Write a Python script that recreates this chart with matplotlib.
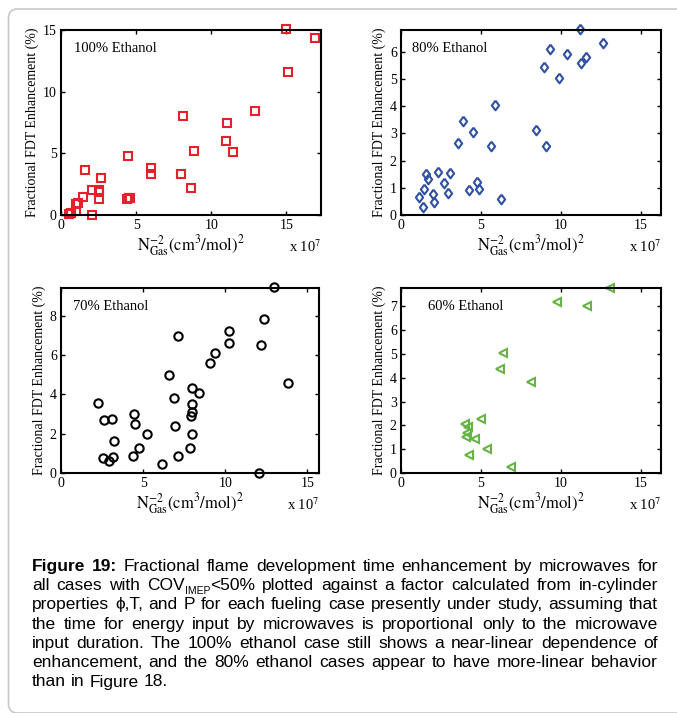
import numpy as np
import matplotlib
matplotlib.use("Agg")
import matplotlib.pyplot as plt
from matplotlib.path import Path
from matplotlib.patches import PathPatch

plt.rcParams['font.family'] = ['Liberation Serif', 'DejaVu Serif']
plt.rcParams['mathtext.fontset'] = 'stix'

# x values are in units of 1e7 (cm^3/mol)^2, y values in %
x100 = [0.55, 0.65, 1.0, 1.0, 1.1, 1.49, 1.6, 2.05, 2.09, 2.5, 2.56, 2.5, 2.65, 4.39, 4.52,
        4.57, 4.43, 6.01, 5.99, 7.97, 8.15, 8.66, 8.84, 10.98, 11.02, 11.45, 12.92, 14.97, 15.08, 16.9]
y100 = [0.1, 0.15, 0.35, 0.89, 0.95, 1.43, 3.68, 0.03, 2.0, 2.0, 1.84, 1.27, 3.03, 1.3, 1.35,
        1.4, 4.78, 3.84, 3.32, 3.35, 8.0, 2.19, 5.19, 6.0, 7.49, 5.08, 8.4, 15.05, 11.59, 14.38]

x80 = [1.13, 1.36, 1.44, 1.57, 1.71, 1.98, 2.09, 2.32, 2.67, 2.96, 3.07, 3.59, 3.9, 4.22, 4.47,
       4.78, 4.86, 5.64, 5.85, 6.22, 8.43, 8.96, 9.08, 9.29, 9.9, 10.38, 11.17, 11.27, 11.59, 12.63]
y80 = [0.67, 0.28, 0.95, 1.49, 1.32, 0.76, 0.47, 1.59, 1.16, 0.8, 1.55, 2.63, 3.45, 0.92, 3.04,
       1.21, 0.94, 2.53, 4.04, 0.59, 3.13, 5.43, 2.53, 6.11, 5.03, 5.91, 6.82, 5.57, 5.8, 6.34]

x70 = [2.23, 2.62, 3.08, 2.58, 2.92, 3.14, 3.25, 4.42, 4.5, 4.38, 4.77, 5.21, 6.13, 6.59, 6.9,
       6.96, 7.12, 7.14, 7.95, 7.97, 7.95, 7.91, 7.99, 7.87, 8.42, 9.07, 9.37, 10.22, 10.24,
       12.17, 12.05, 13.79, 12.97, 12.36]
y70 = [3.57, 2.69, 2.72, 0.77, 0.63, 0.8, 1.65, 2.99, 2.47, 0.85, 1.29, 2.0, 0.48, 5.0, 3.79,
       2.38, 0.87, 6.97, 4.3, 3.49, 3.1, 2.91, 1.97, 1.26, 4.08, 5.58, 6.12, 7.23, 6.62,
       6.48, 0.02, 4.57, 9.44, 7.85]

x60 = [13.09, 9.75, 11.63, 6.35, 6.2, 8.12, 5.01, 4.01, 4.18, 4.11, 4.05, 4.63, 5.37, 4.22, 6.87]
y60 = [7.77, 7.18, 7.02, 5.06, 4.37, 3.84, 2.26, 2.06, 1.95, 1.67, 1.51, 1.44, 1.0, 0.74, 0.25]

caption = [
    "Figure 19: Fractional flame development time enhancement by microwaves for",
    "all cases with COV_{IMEP}<50% plotted against a factor calculated from in-cylinder",
    "properties \u03d5,T, and P for each fueling case presently under study, assuming that",
    "the time for energy input by microwaves is proportional only to the microwave",
    "input duration. The 100% ethanol case still shows a near-linear dependence of",
    "enhancement, and the 80% ethanol cases appear to have more-linear behavior",
    "than in Figure 18.",
]

W, H = 677, 713
fig = plt.figure(figsize=(W / 100, H / 100), dpi=100)

# light rounded frame, open on the right (inches)
L, T, B, r = 0.085, 7.04, 0.0, 0.09
verts = [(7.5, T), (L + r, T), (L, T), (L, T - r), (L, B + r), (L, B), (L + r, B), (7.5, B)]
codes = [Path.MOVETO, Path.LINETO, Path.CURVE3, Path.CURVE3, Path.LINETO, Path.CURVE3, Path.CURVE3, Path.LINETO]
fig.add_artist(PathPatch(Path(verts, codes), transform=fig.dpi_scale_trans,
                         fc='none', ec='#c8c8c8', lw=1.2))


def panel(left, top, width, x, y, marker, color, ms, label, label_x, xmax, ymax, yticks):
    ax = fig.add_axes([left / W, 1 - (top + 185) / H, width / W, 185 / H])
    ax.plot(x, y, ls='none', marker=marker, ms=ms, mfc='none', mec=color, mew=1.5, clip_on=False)
    ax.set_xlim(0, xmax)
    ax.set_ylim(0, ymax)
    ax.set_xticks([0, 5, 10, 15])
    ax.set_yticks(yticks)
    ax.tick_params(direction='in', top=True, right=True, length=3, width=1, labelsize=10, pad=3)
    for s in ax.spines.values():
        s.set_linewidth(1.5)
    ax.set_xlabel(r'$\mathrm{N_{Gas}^{-2}(cm^3/mol)^2}$', fontsize=12, labelpad=1)
    ax.set_ylabel('Fractional FDT Enhancement (%)', fontsize=10, labelpad=3)
    ax.text(label_x, 0.9, label, transform=ax.transAxes, fontsize=10.5, va='center')
    ax.text(1.0, -0.2, r'x 10$^7$', transform=ax.transAxes, ha='right', fontsize=10.5)
    return ax


diamond = [(0, 1), (0.75, 0), (0, -1), (-0.75, 0), (0, 1)]
panel(61, 30, 260, x100, y100, 's', '#e3222b', 5.5, '100% Ethanol', 0.05, 17.3, 15, [0, 5, 10, 15])
panel(401, 30, 260, x80, y80, diamond, '#2f50a3', 7, '80% Ethanol', 0.041, 16.25, 6.8, range(7))
panel(61, 288, 258, x70, y70, 'o', 'black', 6, '70% Ethanol', 0.047, 15.7, 9.4, [0, 2, 4, 6, 8])
panel(401, 288, 260, x60, y60, '<', '#66b446', 6, '60% Ethanol', 0.104, 16.25, 7.77, range(8))

# caption, justified word by word
renderer = fig.canvas.get_renderer()
sans = ['Liberation Sans', 'DejaVu Sans']
fs = 12.5
styles = {'n': dict(family=sans, size=fs),
          'b': dict(family=sans, size=fs, weight='bold'),
          's': dict(family=sans, size=7.5)}


def parts(word, bold):
    if '_{' in word:
        a, rest = word.split('_{')
        sub, b = rest.split('}')
        return [(a, 'n'), (sub, 's'), (b, 'n')]
    return [(word, 'b' if bold else 'n')]


def width(s, kind):
    t = fig.text(0, 0, s, **styles[kind])
    w = t.get_window_extent(renderer).width
    t.remove()
    return w


space = width('a a', 'n') - 2 * width('a', 'n')
x_left, x_right = 32, 658
for i, line in enumerate(caption):
    words = [parts(w, i == 0 and j < 2) for j, w in enumerate(line.split())]
    widths = [sum(width(s, k) for s, k in w) for w in words]
    if i < len(caption) - 1:
        gap = (x_right - x_left - sum(widths)) / (len(words) - 1)
    else:
        gap = space
    base = 570.7 + i * 19.3
    xp = x_left
    for w, ww in zip(words, widths):
        xx = xp
        for s, k in w:
            dy = 4 if k == 's' else 0
            fig.text(xx / W, 1 - (base + dy) / H, s, va='baseline', **styles[k])
            xx += width(s, k)
        xp += ww + gap

fig.savefig('out.png', dpi=100)
